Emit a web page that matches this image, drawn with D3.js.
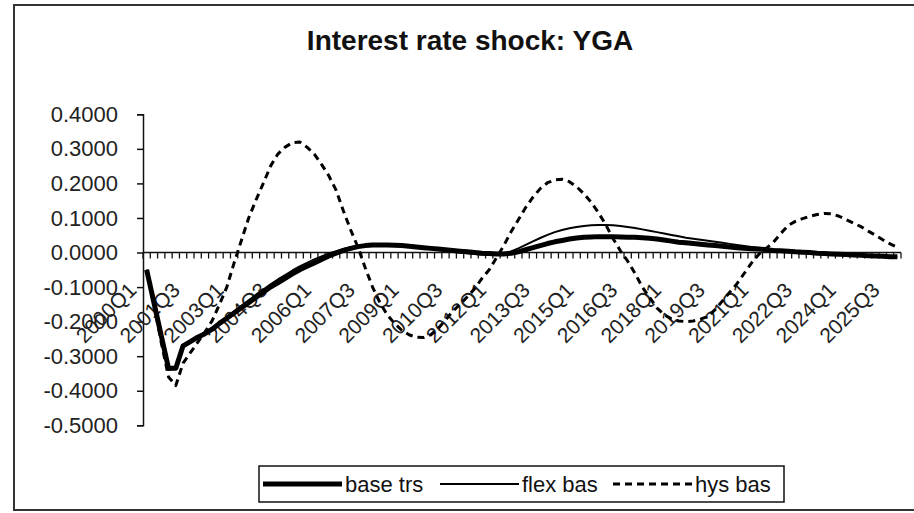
<!DOCTYPE html>
<html>
<head>
<meta charset="utf-8">
<script src="https://cdn.jsdelivr.net/npm/d3@7"></script>
<style>
  body { margin: 0; background: #fff; }
  svg { display: block; font-family: "Liberation Sans", Arial, sans-serif; }
</style>
</head>
<body>
<div id="chart"></div>
<script>
// quarters 2000Q1 .. 2025Q4
var quarters = [];
for (var yr = 2000; yr <= 2025; yr++) {
  for (var q = 1; q <= 4; q++) quarters.push(yr + "Q" + q);
}

var seriesNames = ["base trs", "flex bas", "hys bas"];

var baseTrs = [
  -0.050, -0.145, -0.240, -0.335, -0.335, -0.270, -0.258, -0.245, -0.235, -0.222,
  -0.205, -0.190, -0.175, -0.160, -0.145, -0.130, -0.115, -0.100, -0.088, -0.075,
  -0.062, -0.050, -0.040, -0.030, -0.020, -0.010, -0.002, 0.006, 0.012, 0.017,
  0.020, 0.022, 0.022, 0.022, 0.021, 0.020, 0.018, 0.016, 0.014, 0.012,
  0.010, 0.008, 0.006, 0.004, 0.002, 0.000, -0.002, -0.003, -0.004, -0.004,
  -0.002, 0.002, 0.008, 0.014, 0.020, 0.026, 0.031, 0.035, 0.039, 0.042,
  0.044, 0.045, 0.046, 0.046, 0.046, 0.045, 0.044, 0.044, 0.043, 0.041,
  0.039, 0.036, 0.033, 0.030, 0.028, 0.026, 0.024, 0.022, 0.020, 0.018,
  0.016, 0.014, 0.012, 0.011, 0.010, 0.008, 0.006, 0.005, 0.004, 0.002,
  0.001, 0.000, -0.002, -0.003, -0.004, -0.005, -0.006, -0.007, -0.008, -0.009,
  -0.010, -0.011, -0.012, -0.012
];

var flexBas = [
  -0.050, -0.150, -0.245, -0.340, -0.335, -0.275, -0.260, -0.245, -0.232, -0.218,
  -0.202, -0.186, -0.170, -0.154, -0.138, -0.122, -0.107, -0.092, -0.078, -0.065,
  -0.052, -0.040, -0.030, -0.020, -0.011, -0.003, 0.004, 0.010, 0.015, 0.019,
  0.022, 0.024, 0.025, 0.025, 0.024, 0.022, 0.020, 0.018, 0.015, 0.012,
  0.009, 0.006, 0.003, 0.000, -0.002, -0.004, -0.006, -0.007, -0.006, -0.003,
  0.003, 0.012, 0.022, 0.032, 0.042, 0.051, 0.059, 0.065, 0.070, 0.074,
  0.077, 0.079, 0.080, 0.080, 0.079, 0.077, 0.074, 0.071, 0.067, 0.063,
  0.059, 0.055, 0.051, 0.047, 0.043, 0.040, 0.037, 0.034, 0.031, 0.028,
  0.025, 0.022, 0.019, 0.016, 0.013, 0.011, 0.009, 0.007, 0.005, 0.003,
  0.001, 0.000, -0.002, -0.003, -0.004, -0.005, -0.006, -0.007, -0.008, -0.009,
  -0.010, -0.011, -0.012, -0.012
];

var hysBas = [
  -0.050, -0.150, -0.260, -0.360, -0.385, -0.320, -0.290, -0.260, -0.230, -0.197,
  -0.150, -0.100, -0.030, 0.035, 0.100, 0.152, 0.200, 0.250, 0.285, 0.305,
  0.318, 0.320, 0.305, 0.285, 0.255, 0.222, 0.180, 0.120, 0.065, 0.015,
  -0.045, -0.100, -0.145, -0.180, -0.205, -0.225, -0.238, -0.245, -0.246, -0.238,
  -0.220, -0.195, -0.170, -0.150, -0.128, -0.105, -0.075, -0.050, -0.015, 0.020,
  0.060, 0.095, 0.130, 0.160, 0.185, 0.202, 0.210, 0.212, 0.205, 0.190,
  0.170, 0.145, 0.115, 0.080, 0.040, 0.005, -0.025, -0.060, -0.100, -0.130,
  -0.160, -0.180, -0.192, -0.198, -0.200, -0.198, -0.193, -0.185, -0.165, -0.140,
  -0.115, -0.090, -0.060, -0.030, -0.005, 0.012, 0.030, 0.055, 0.078, 0.090,
  0.098, 0.105, 0.110, 0.113, 0.112, 0.105, 0.095, 0.085, 0.075, 0.062,
  0.050, 0.037, 0.025, 0.015
];

var yTicks = [0.4, 0.3, 0.2, 0.1, 0.0, -0.1, -0.2, -0.3, -0.4, -0.5];

var svgWidth = 914;
var svgHeight = 513;

var plot = { left: 143, right: 901, top: 114.3, bottom: 425.3 };

var svg = d3.select("#chart")
  .append("svg")
  .attr("width", svgWidth)
  .attr("height", svgHeight);

// chart frame (right side runs off the picture)
svg.append("path")
  .attr("d", "M920,5 H14 V510 H920")
  .attr("fill", "none")
  .attr("stroke", "#333")
  .attr("stroke-width", 2);

svg.append("text")
  .attr("x", 470)
  .attr("y", 50)
  .attr("text-anchor", "middle")
  .attr("font-size", "28px")
  .attr("font-weight", "bold")
  .attr("fill", "#111")
  .text("Interest rate shock: YGA");

// scales
var xBand = d3.scaleBand()
  .domain(quarters)
  .range([plot.left, plot.right])
  .padding(0);

var xCenter = function(q) { return xBand(q) + xBand.bandwidth() / 2; };

var yScale = d3.scaleLinear()
  .domain([-0.5, 0.4])
  .range([plot.bottom, plot.top]);

// hyphen minus, like the original
var fmt = d3.formatLocale({ decimal: ".", thousands: ",", grouping: [3], currency: ["", ""], minus: "-" }).format(".4f");

// y axis
var leftAxis = d3.axisLeft(yScale)
  .tickValues(yTicks)
  .tickFormat(d => Math.abs(d) < 1e-9 ? "0.0000" : fmt(d))
  .tickSize(6)
  .tickPadding(19);

var yAxisG = svg.append("g")
  .attr("transform", `translate(${plot.left},0)`)
  .call(leftAxis);
yAxisG.select(".domain").attr("stroke", "#111").attr("stroke-width", 1.5);
yAxisG.selectAll(".tick line").attr("stroke", "#111").attr("stroke-width", 1.5);
yAxisG.selectAll(".tick text")
  .attr("font-size", "22px")
  .attr("font-family", "Liberation Sans, Arial, sans-serif")
  .attr("fill", "#222");

// x axis at zero, tick marks at category boundaries
var y0 = yScale(0);
var xAxisG = svg.append("g");
xAxisG.append("line")
  .attr("x1", plot.left).attr("x2", plot.right)
  .attr("y1", y0).attr("y2", y0)
  .attr("stroke", "#111")
  .attr("stroke-width", 1.5);

var boundaries = quarters.map(q => xBand(q)).concat([plot.right]);
xAxisG.selectAll("line.tick")
  .data(boundaries)
  .enter()
  .append("line")
  .attr("class", "tick")
  .attr("x1", d => d).attr("x2", d => d)
  .attr("y1", y0).attr("y2", y0 + 6)
  .attr("stroke", "#111")
  .attr("stroke-width", 1.3);

xAxisG.selectAll("text")
  .data(quarters.filter((q, i) => i % 6 === 0))
  .enter()
  .append("text")
  .attr("transform", d => `translate(${xCenter(d) - 9},${y0 + 39}) rotate(-45)`)
  .attr("text-anchor", "end")
  .attr("font-size", "21px")
  .attr("fill", "#222")
  .text(d => d);

// series
var line = d3.line()
  .x((d, i) => xCenter(quarters[i]))
  .y(d => yScale(d));

var styles = [
  { data: baseTrs, width: 5, dash: null },
  { data: flexBas, width: 2, dash: null },
  { data: hysBas, width: 3, dash: "7,5" }
];

svg.append("g")
  .selectAll("path")
  .data(styles)
  .enter()
  .append("path")
  .attr("d", d => line(d.data))
  .attr("fill", "none")
  .attr("stroke", "#000")
  .attr("stroke-width", d => d.width)
  .attr("stroke-dasharray", d => d.dash)
  .attr("stroke-linejoin", "round");

// legend
var legend = svg.append("g");
legend.append("rect")
  .attr("x", 259).attr("y", 466)
  .attr("width", 525).attr("height", 36)
  .attr("fill", "#fff")
  .attr("stroke", "#111")
  .attr("stroke-width", 1.5);

var legendX = [263, 440, 613];
var legendItems = legend.selectAll("g.item")
  .data(styles)
  .enter()
  .append("g")
  .attr("class", "item")
  .attr("transform", (d, i) => `translate(${legendX[i]},484)`);

legendItems.append("line")
  .attr("x1", 0).attr("x2", 79)
  .attr("y1", 0).attr("y2", 0)
  .attr("stroke", "#000")
  .attr("stroke-width", d => d.width)
  .attr("stroke-dasharray", d => d.dash);

legendItems.append("text")
  .attr("x", 82)
  .attr("y", 8)
  .attr("font-size", "22px")
  .attr("fill", "#111")
  .text((d, i) => seriesNames[i]);
</script>
</body>
</html>
